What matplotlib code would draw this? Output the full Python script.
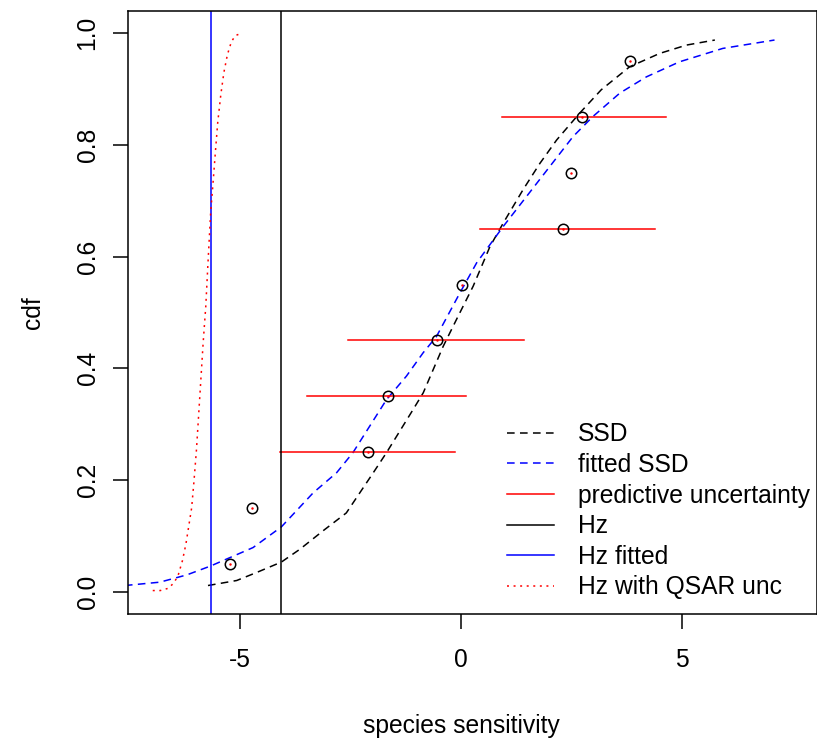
import matplotlib
matplotlib.use("Agg")
import matplotlib.pyplot as plt

plt.rcParams["font.family"] = ["Liberation Sans", "DejaVu Sans"]

# observed species sensitivities and their plotting positions
obs_x = [-5.23, -4.73, -2.10, -1.64, -0.54, 0.03, 2.32, 2.50, 2.75, 3.82]
obs_y = [0.05, 0.15, 0.25, 0.35, 0.45, 0.55, 0.65, 0.75, 0.85, 0.95]

# SSD (black dashed)
ssd_x = [-5.72, -5.07, -4.60, -4.06, -3.64, -3.10, -2.59, -1.98, -1.68, -1.08,
         -0.85, -0.40, -0.10, 0.28, 0.66, 0.96, 1.41, 1.79, 2.17, 2.69,
         3.18, 3.82, 4.50, 5.11, 5.75]
ssd_y = [0.011, 0.020, 0.035, 0.053, 0.076, 0.110, 0.141, 0.213, 0.249, 0.326,
         0.356, 0.439, 0.487, 0.547, 0.618, 0.660, 0.720, 0.767, 0.809, 0.857,
         0.899, 0.940, 0.964, 0.979, 0.988]

# fitted SSD (blue dashed)
fit_x = [-7.60, -6.81, -6.20, -5.66, -4.70, -4.06, -3.34, -2.81, -2.44, -1.68,
         -1.23, -0.85, -0.55, -0.02, 0.36, 0.96, 1.49, 2.01, 2.54, 2.99,
         3.60, 4.20, 4.95, 5.93, 7.10]
fit_y = [0.011, 0.017, 0.030, 0.046, 0.079, 0.116, 0.177, 0.213, 0.249, 0.344,
         0.386, 0.428, 0.457, 0.535, 0.589, 0.654, 0.708, 0.761, 0.815, 0.851,
         0.893, 0.922, 0.949, 0.973, 0.988]

# predictive uncertainty segments
unc_y = [0.25, 0.35, 0.45, 0.65, 0.85]
unc_lo = [-4.08, -3.49, -2.56, 0.43, 0.93]
unc_hi = [-0.14, 0.11, 1.43, 4.39, 4.65]

# hazard concentrations
hz = -4.06
hz_fit = -5.66

# Hz with QSAR uncertainty (red dotted)
qsar_x = [-6.97, -6.80, -6.62, -6.50, -6.40, -6.30, -6.22, -6.15, -6.09, -6.04,
          -5.98, -5.90, -5.83, -5.77, -5.72, -5.66, -5.60, -5.55, -5.50, -5.43,
          -5.36, -5.28, -5.19, -5.10, -5.00]
qsar_y = [0.002, 0.002, 0.006, 0.015, 0.028, 0.055, 0.085, 0.120, 0.150, 0.195,
          0.255, 0.356, 0.445, 0.511, 0.589, 0.678, 0.738, 0.790, 0.840, 0.890,
          0.930, 0.962, 0.985, 0.996, 0.999]

FS = 17.7
LW = 1.1

fig = plt.figure(figsize=(8.17, 7.40), dpi=100)
ax = fig.add_axes([128 / 817, 126 / 740, 688.5 / 817, 603 / 740])

ax.plot(ssd_x, ssd_y, color="black", lw=LW, dashes=(5, 3.5), label="SSD")
ax.plot(fit_x, fit_y, color="blue", lw=LW, dashes=(5, 3.5), label="fitted SSD")
for i, (y, lo, hi) in enumerate(zip(unc_y, unc_lo, unc_hi)):
    ax.plot([lo, hi], [y, y], color="red", lw=LW,
            label="predictive uncertainty" if i == 0 else None)
ax.axvline(hz, color="black", lw=LW, label="Hz")
ax.axvline(hz_fit, color="blue", lw=LW, label="Hz fitted")
ax.plot(qsar_x, qsar_y, color="red", lw=LW, dashes=(1.3, 3.0),
        label="Hz with QSAR unc")

ax.plot(obs_x, obs_y, "o", mfc="none", mec="black", mew=1.1, ms=7.5)
ax.plot(obs_x, obs_y, ".", color="red", ms=1.5)

ax.set_xlim(-7.53, 8.05)
ax.set_ylim(-0.04, 1.04)
ax.set_xticks([-5, 0, 5])
ax.set_xticklabels(["-5", "0", "5"])
ax.set_yticks([0, 0.2, 0.4, 0.6, 0.8, 1.0])
ax.set_yticklabels(["0.0", "0.2", "0.4", "0.6", "0.8", "1.0"],
                   rotation=90, va="center")
ax.tick_params(direction="out", length=10.5, width=LW, labelsize=FS)
ax.tick_params(axis="x", pad=14)
ax.tick_params(axis="y", pad=10)
for s in ax.spines.values():
    s.set_linewidth(LW)

ax.set_xlabel("species sensitivity", fontsize=FS)
ax.set_ylabel("cdf", fontsize=FS)
ax.xaxis.set_label_coords(0.484, -0.166)
ax.yaxis.set_label_coords(-0.12, 0.5)

ax.legend(loc="upper left", bbox_to_anchor=(0.55, 0.318), frameon=False,
          fontsize=FS, handlelength=1.94, handletextpad=0.97,
          labelspacing=0.27, borderpad=0, borderaxespad=0)

fig.savefig("out.png", dpi=100)
